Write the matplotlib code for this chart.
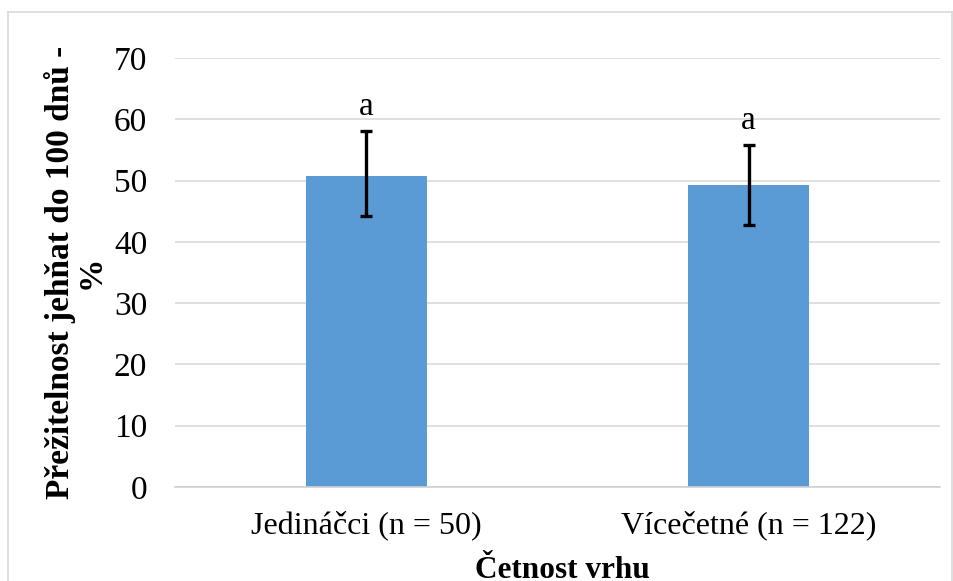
import matplotlib.pyplot as plt
from matplotlib.lines import Line2D
import numpy as np

# data
categories = ['Jedináčci (n = 50)', 'Vícečetné (n = 122)']
survival = [50.8, 49.2]
err_low = [6.5, 6.5]
err_high = [7.3, 6.6]
letters = ['a', 'a']
yticks = [0, 10, 20, 30, 40, 50, 60, 70]

plt.rcParams['font.family'] = ['Liberation Serif', 'DejaVu Serif']
plt.rcParams['font.size'] = 24

fig = plt.figure(figsize=(9.54, 5.81), dpi=100)
ax = fig.add_axes([175 / 954, 94 / 581, 765 / 954, 429 / 581])

x = np.arange(len(categories))
ax.bar(x, survival, width=0.317, color='#5b9bd5', zorder=2)
ax.errorbar(x, survival, yerr=[err_low, err_high], fmt='none', ecolor='black',
            elinewidth=2.4, capsize=4.5, capthick=2.4, zorder=3)
for xi, v, e, t in zip(x, survival, err_high, letters):
    ax.text(xi, v + e + 1.5, t, ha='center', va='bottom', fontsize=24)

ax.set_xlim(-0.5, 1.5)
ax.set_ylim(0, 70)
ax.set_yticks(yticks)
ax.set_xticks(x)
ax.set_xticklabels(categories, fontsize=23)
ax.yaxis.grid(True, color='#d9d9d9', linewidth=1.2, zorder=0)
ax.set_axisbelow(True)
for s in ['top', 'right', 'left']:
    ax.spines[s].set_visible(False)
ax.spines['bottom'].set_color('#d0d0d0')
ax.spines['bottom'].set_linewidth(1.2)
ax.tick_params(axis='y', length=0, pad=20)
ax.tick_params(axis='x', length=0, pad=17)

ax.set_ylabel('Přežitelnost jehňat do 100 dnů -\n%', fontweight='bold',
              fontsize=24, linespacing=0.95)
ax.yaxis.set_label_coords(-0.09, 0.5)
fig.text(562 / 954, 1 - 578 / 581, 'Četnost vrhu', ha='center', va='baseline',
         fontweight='bold', fontsize=22.5)

# chart area border
bx0, bx1, by1 = 8 / 954, 952 / 954, 1 - 12 / 581
for xs, ys in [([bx0, bx1], [by1, by1]), ([bx0, bx0], [0, by1]), ([bx1, bx1], [0, by1])]:
    fig.add_artist(Line2D(xs, ys, color='#d9d9d9', linewidth=1.2))

fig.savefig('out.png', dpi=100)
